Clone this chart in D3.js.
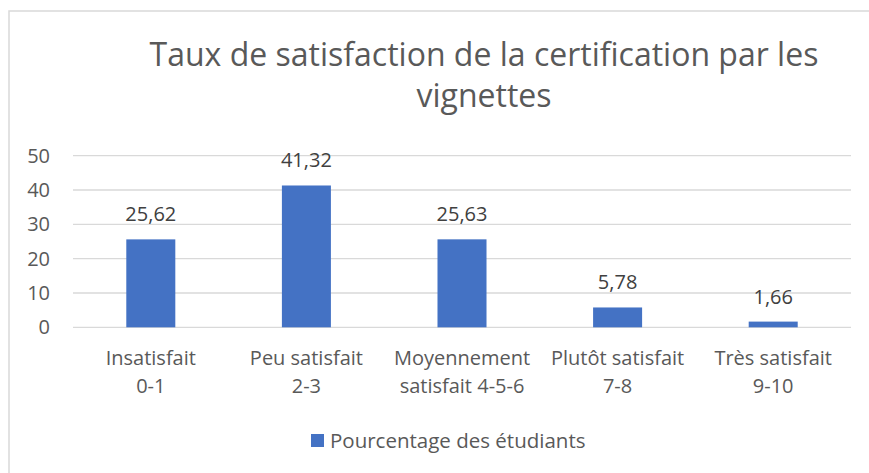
<html>
<head>
  <title></title>
  <script src="https://d3js.org/d3.v7.min.js"></script>
  <style>
    body { margin: 0; background: #fff; }
    text { font-family: "Open Sans", "Noto Sans", sans-serif; fill: #595959; }
  </style>
</head>
<body>
<script type="text/javascript">

var categories = ["Insatisfait|0-1", "Peu satisfait|2-3", "Moyennement|satisfait 4-5-6", "Plutôt satisfait|7-8", "Très satisfait|9-10"];
var values = [25.62, 41.32, 25.63, 5.78, 1.66];
var valueLabels = ["25,62", "41,32", "25,63", "5,78", "1,66"];
var yTicks = [0, 10, 20, 30, 40, 50];
var titleLines = ["Taux de satisfaction de la certification par les", "vignettes"];
var seriesName = "Pourcentage des étudiants";

var width = 869,
    height = 473;

var svg = d3.select("body").append("svg").attr("width", width).attr("height", height);

// chart frame, right and bottom edges fall outside the picture
svg.append("rect")
   .attr("x", 9).attr("y", 11)
   .attr("width", 900).attr("height", 500)
   .style("fill", "#fff")
   .style("stroke", "#d9d9d9")
   .style("stroke-width", 1.5);

var x = d3.scaleBand().domain(d3.range(categories.length)).range([73, 851])
          .paddingInner(0.685).paddingOuter(0.3425);
var y = d3.scaleLinear().domain([0, 50]).range([327.3, 155.7]);

// title
svg.selectAll(".title")
   .data(titleLines)
   .enter()
   .append("text")
   .attr("class", "title")
   .attr("x", 484)
   .attr("y", function(d, i) { return 66 + i * 41; })
   .attr("text-anchor", "middle")
   .style("font-size", "32px")
   .text(function(d) { return d; });

// gridlines
svg.selectAll(".grid")
   .data(yTicks)
   .enter()
   .append("line")
   .attr("x1", 73).attr("x2", 851)
   .attr("y1", function(d) { return y(d); })
   .attr("y2", function(d) { return y(d); })
   .style("stroke", "#d9d9d9")
   .style("stroke-width", 1.3);

// y axis labels
var yAxis = d3.axisLeft(y).tickValues(yTicks).tickSize(0).tickPadding(0);
var gy = svg.append("g").attr("transform", "translate(50,0)").call(yAxis);
gy.select(".domain").remove();
gy.selectAll("text")
  .attr("font-family", null)
  .style("font-size", "20px")
  .style("fill", "#595959");

// bars
svg.selectAll(".bar")
   .data(values)
   .enter()
   .append("rect")
   .attr("class", "bar")
   .attr("x", function(d, i) { return x(i); })
   .attr("y", function(d) { return y(d); })
   .attr("width", x.bandwidth())
   .attr("height", function(d) { return y(0) - y(d); })
   .style("fill", "#4472c4");

// data labels
svg.selectAll(".vlabel")
   .data(values)
   .enter()
   .append("text")
   .attr("class", "vlabel")
   .attr("x", function(d, i) { return x(i) + x.bandwidth() / 2; })
   .attr("y", function(d) { return y(d) - 18; })
   .attr("text-anchor", "middle")
   .style("font-size", "20px")
   .style("fill", "#404040")
   .text(function(d, i) { return valueLabels[i]; });

// category labels (two lines)
var cat = svg.selectAll(".cat")
   .data(categories)
   .enter()
   .append("text")
   .attr("class", "cat")
   .attr("text-anchor", "middle")
   .style("font-size", "20px");

cat.selectAll("tspan")
   .data(function(d, i) { return d.split("|").map(function(s) { return { s: s, i: i }; }); })
   .enter()
   .append("tspan")
   .attr("x", function(d) { return x(d.i) + x.bandwidth() / 2; })
   .attr("y", function(d, j) { return 365 + j * 28; })
   .text(function(d) { return d.s; });

// legend
svg.append("rect")
   .attr("x", 311).attr("y", 434)
   .attr("width", 13).attr("height", 13)
   .style("fill", "#4472c4");
svg.append("text")
   .attr("x", 330).attr("y", 448)
   .style("font-size", "20.5px")
   .text(seriesName);

</script>
</body>
</html>
